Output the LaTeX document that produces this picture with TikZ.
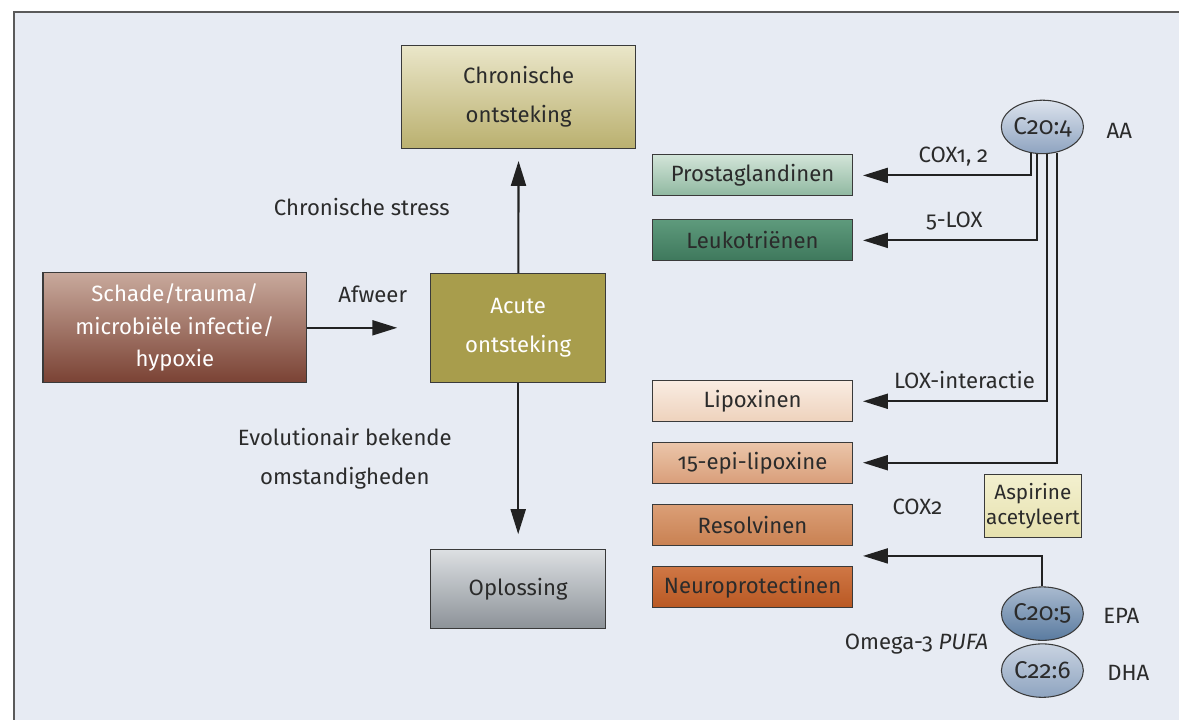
\documentclass[tikz,border=0pt]{standalone}
\usepackage{fontspec}
\setmainfont{Fira Sans}[Numbers=OldStyle]
\usepackage{xcolor}
\usetikzlibrary{shapes, arrows.meta, positioning, calc}

\definecolor{panelbg}{HTML}{E7EBF3}
\definecolor{panelline}{HTML}{5A5A5A}
\definecolor{boxline}{HTML}{3A3A3A}
\definecolor{txt}{HTML}{2B2B2B}
\definecolor{arrowcol}{HTML}{222222}
\definecolor{chronT}{HTML}{EAE6C9}
\definecolor{chronB}{HTML}{BAB06F}
\definecolor{acutefill}{HTML}{A89D4C}
\definecolor{schadeT}{HTML}{C8A99C}
\definecolor{schadeB}{HTML}{7A4234}
\definecolor{oplosT}{HTML}{DCDFE2}
\definecolor{oplosB}{HTML}{8C9298}
\definecolor{prostaT}{HTML}{D2E4D8}
\definecolor{prostaB}{HTML}{8FB8A0}
\definecolor{leukoT}{HTML}{5E9A7C}
\definecolor{leukoB}{HTML}{3E785C}
\definecolor{lipoxT}{HTML}{F9ECE2}
\definecolor{lipoxB}{HTML}{EED2BC}
\definecolor{epiT}{HTML}{EBC6AA}
\definecolor{epiB}{HTML}{D99E7A}
\definecolor{resolvT}{HTML}{DB9F77}
\definecolor{resolvB}{HTML}{C98152}
\definecolor{neuroT}{HTML}{CF7745}
\definecolor{neuroB}{HTML}{B95823}
\definecolor{aspT}{HTML}{F3F0CF}
\definecolor{aspB}{HTML}{E6E1AE}
\definecolor{aaT}{HTML}{DCE3ED}
\definecolor{aaB}{HTML}{8EA3C0}
\definecolor{epaT}{HTML}{A9BACF}
\definecolor{epaB}{HTML}{5A7BA0}
\definecolor{dhaT}{HTML}{C9D3E1}
\definecolor{dhaB}{HTML}{8EA4C0}

\begin{document}
\begin{tikzpicture}[x=0.02cm, y=-0.02cm,
    box/.style={draw=boxline, line width=0.6pt, align=center, text=txt, inner sep=0pt,
      font=\fontsize{12.6}{22}\selectfont},
    smallbox/.style={box, minimum width=4cm, minimum height=0.82cm},
    fatty/.style={draw=boxline, line width=0.6pt, ellipse, minimum width=1.64cm, minimum height=1.07cm,
      inner sep=0pt, text=txt, font=\fontsize{13.8}{15}\selectfont},
    lbl/.style={text=txt, align=center, font=\fontsize{12.6}{22}\selectfont},
    arr/.style={-{Triangle[length=0.5cm, width=0.3cm]}, line width=1.2pt, draw=arrowcol}]

  % panel
  \fill[white] (0,0) rectangle (1180,720);
  \fill[panelbg] (14,12) rectangle (1180,720);
  \draw[panelline, line width=0.8pt] (14,720) -- (14,12) -- (1180,12);

  % main flow
  \node[box, minimum width=4.68cm, minimum height=2.06cm, top color=chronT, bottom color=chronB] at (519,97) (chron) {Chronische\\ontsteking};
  \node[box, minimum width=3.5cm, minimum height=2.18cm, fill=acutefill, text=white] at (518.5,328) (acute) {Acute\\ontsteking};
  \node[box, minimum width=5.28cm, minimum height=2.2cm, top color=schadeT, bottom color=schadeB, text=white,
    font=\fontsize{12.6}{18.5}\selectfont] at (175,328) (schade) {Schade/trauma/\\microbiële infectie/\\hypoxie};
  \node[box, minimum width=3.5cm, minimum height=1.58cm, top color=oplosT, bottom color=oplosB] at (518.5,589.5) (oplos) {Oplossing};

  \node[lbl] at (373,295) (afweer) {Afweer};
  \node[lbl] at (362,207) (stress) {Chronische stress};
  \node[lbl] at (345,459) (evol) {Evolutionair bekende\\omstandigheden};

  \draw[arr, shorten >=0.66cm] (schade) -- (acute);
  \draw[arr, shorten >=0.24cm] (acute) -- (chron);
  \draw[arr, shorten >=0.3cm] (acute) -- (oplos);

  % mediators
  \node[smallbox, top color=prostaT, bottom color=prostaB] at (753,175.5) (prosta) {Prostaglandinen};
  \node[smallbox, top color=leukoT, bottom color=leukoB] at (753,240.5) (leuko) {Leukotriënen};
  \node[smallbox, top color=lipoxT, bottom color=lipoxB] at (753,401.5) (lipox) {Lipoxinen};
  \node[smallbox, top color=epiT, bottom color=epiB] at (753,463) (epilipox) {15-epi-lipoxine};
  \node[smallbox, top color=resolvT, bottom color=resolvB] at (753,525) (resolv) {Resolvinen};
  \node[smallbox, top color=neuroT, bottom color=neuroB] at (753,587.5) (neuro) {Neuroprotectinen};
  \coordinate (resneu) at ($(resolv.south east)!0.5!(neuro.north east)$);

  \node[box, minimum width=1.94cm, minimum height=1.26cm, top color=aspT, bottom color=aspB,
    font=\fontsize{11.8}{14.5}\selectfont] at (1033.5,506.5) (aspirine) {Aspirine\\acetyleert};

  % fatty acids
  \node[fatty, top color=aaT, bottom color=aaB] at (1043,127) (aa) {C20:4};
  \node[fatty, top color=epaT, bottom color=epaB] at (1043,614) (epa) {C20:5};
  \node[fatty, top color=dhaT, bottom color=dhaB] at (1043,671) (dha) {C22:6};

  \node[lbl] at (1120,131) (aalbl) {AA};
  \node[lbl] at (1122,616) (epalbl) {EPA};
  \node[lbl] at (1129,673) (dhalbl) {DHA};
  \node[lbl] at (917,644) (omega) {Omega-3 \textit{PUFA}};

  \node[lbl] at (954,157) (cox12) {COX1, 2};
  \node[lbl] at (955,221) (lox5) {5-LOX};
  \node[lbl] at (965,380) (loxint) {LOX-interactie};
  \node[lbl] at (918,507) (cox2) {COX2};

  \draw[arr, shorten >=0.2cm] (aa.247) |- (prosta.east);
  \draw[arr, shorten >=0.2cm] (aa.259) |- (leuko.east);
  \draw[arr, shorten >=0.2cm] (aa.279) |- (lipox.east);
  \draw[arr, shorten >=0.2cm] (aa.299) |- (epilipox.east);
  \draw[arr, shorten >=0.2cm] (epa.north) |- (resneu);
\end{tikzpicture}
\end{document}
